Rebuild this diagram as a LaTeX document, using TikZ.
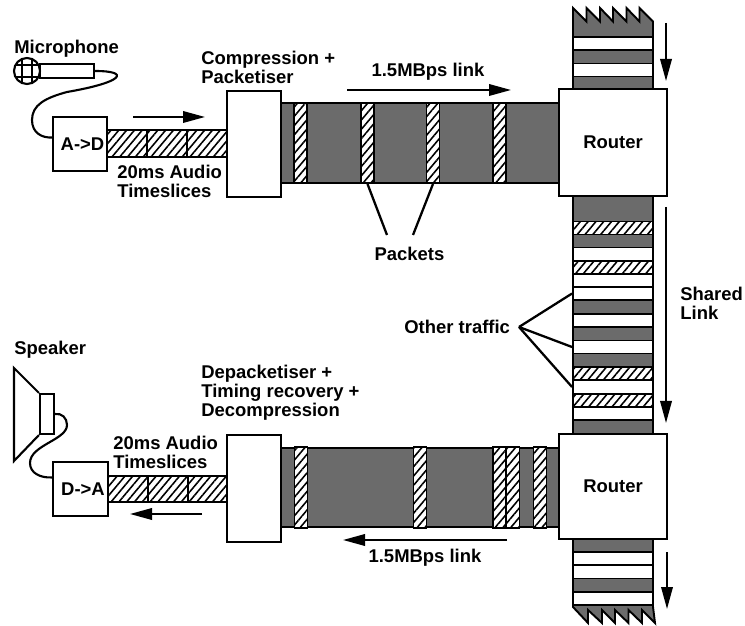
\documentclass[tikz,border=0pt]{standalone}
\usepackage{fontspec}
\setmainfont{Liberation Sans}
\usepackage{tikz}
\usetikzlibrary{arrows.meta, patterns.meta, positioning, calc}

\begin{document}
\begin{tikzpicture}[x=1cm,y=1cm]
\tikzset{
  lb/.style={font=\fontsize{10.5}{10.8}\selectfont\bfseries,align=left,inner sep=0pt},
  bx/.style={rectangle,draw=black,fill=white,line width=1.2pt,inner sep=0pt,font=\fontsize{10.5}{10.8}\selectfont\bfseries},
  dk/.style={fill=black!58},
  hc/.style={preaction={fill=white},pattern={Lines[angle=50,distance=3.4pt,line width=0.9pt]}},
  pk/.style={rectangle,draw=black,line width=1.1pt,inner sep=0pt,hc,minimum width=0.26cm},
  bw/.style={rectangle,draw=black,line width=1.1pt,inner sep=0pt,fill=white,minimum width=1.6cm,minimum height=0.26cm},
  bh/.style={bw,hc},
  ln/.style={line width=1.3pt,draw=black},
  cb/.style={line width=1.2pt,draw=black},
  ar/.style={-{Triangle[length=4.4mm,width=2.3mm]},line width=1.1pt,draw=black}
}
\useasboundingbox (0,0) rectangle (14.9,12.5);
% shared link
\draw[dk,line width=1.1pt] (11.46,12.34)--(11.73,12.07)--(11.73,12.34)--(12.00,12.07)--(12.00,12.34)--(12.26,12.07)--(12.26,12.34)--(12.53,12.07)--(12.53,12.34)--(12.79,12.07)--(12.79,12.34)--(13.06,12.07)
  --(13.06,0.36)--(13.10,0.04)--(12.84,0.30)--(12.84,0.04)--(12.57,0.30)--(12.57,0.04)--(12.30,0.30)--(12.30,0.04)--(12.04,0.30)--(12.04,0.04)--(11.76,0.30)--(11.76,0.04)--(11.46,0.36)--cycle;
\foreach \yc/\st/\n in {11.635/bw/a,11.10/bw/b,7.94/bh/c,7.42/bw/d,7.15/bh/e,6.89/bw/f,6.63/bw/g,6.09/bw/h,5.56/bw/i,5.03/bh/j,4.76/bw/k,4.49/bh/l,4.23/bw/m,1.33/bw/n,1.06/bw/o,0.53/bw/p}
  \node[\st] (s\n) at (12.26,\yc) {};
% links
\draw[dk,line width=1.2pt] (5.62,10.44) rectangle (11.18,8.84);
\draw[dk,line width=1.2pt] (5.62,3.54) rectangle (11.18,1.96);
\foreach \xc/\n in {6.01/1,7.35/2,8.66/3,9.99/4}
  \node[pk,minimum height=1.6cm] (tp\n) at (\xc,9.64) {};
\foreach \xc/\n in {6.02/1,8.40/2,9.99/3,10.26/4,10.80/5}
  \node[pk,minimum height=1.62cm] (bp\n) at (\xc,2.75) {};
% audio strips
\draw[hc,line width=1.2pt] (2.14,9.90) rectangle (4.54,9.36);
\draw[line width=1pt] (2.94,9.90)--(2.94,9.36) (3.74,9.90)--(3.74,9.36);
\draw[hc,line width=1.2pt] (2.16,2.98) rectangle (4.54,2.46);
\draw[line width=1pt] (2.96,2.98)--(2.96,2.46) (3.76,2.98)--(3.76,2.46);
% boxes
\node[bx,minimum width=2.16cm,minimum height=2.14cm] (r1) at (12.26,9.65) {Router};
\node[bx,minimum width=2.16cm,minimum height=2.10cm] (r2) at (12.26,2.77) {Router};
\node[bx,minimum width=1.08cm,minimum height=2.12cm] (cp) at (5.08,9.62) {};
\node[bx,minimum width=1.08cm,minimum height=2.14cm] (dp) at (5.08,2.73) {};
\node[bx,minimum width=1.08cm,minimum height=1.08cm] (ad) at (1.60,9.62) {\hspace*{1mm}A{-}>D};
\node[bx,minimum width=1.10cm,minimum height=1.08cm] (da) at (1.61,2.72) {\hspace*{1mm}D{-}>A};
% microphone
\node[bx,minimum width=1.08cm,minimum height=0.28cm] (hd) at (1.34,11.08) {};
\node[circle,draw=black,fill=white,line width=1.2pt,minimum size=0.52cm,inner sep=0pt,
  path picture={\draw[line width=0.8pt] (-0.10,-0.3)--(-0.10,0.3) (0.10,-0.3)--(0.10,0.3) (-0.3,0.12)--(0.3,0.12) (-0.3,-0.12)--(0.3,-0.12);}] (mic) at (0.54,11.08) {};
\draw[cb] (hd.east) .. controls (2.60,11.08) and (2.50,10.86) .. (1.34,10.66) .. controls (0.90,10.54) and (0.64,10.40) .. (0.64,10.10) .. controls (0.64,9.84) and (0.84,9.74) .. (ad.167);
% speaker
\node[bx,minimum width=0.28cm,minimum height=0.80cm] (mg) at (0.94,4.22) {};
\coordinate (c1) at (0.28,5.14);
\coordinate (c2) at (0.28,3.28);
\draw[cb] (mg.north west)--(c1)--(c2)--(mg.south west);
\draw[cb] (mg.east) .. controls (1.24,4.24) and (1.34,4.14) .. (1.34,4.00) .. controls (1.34,3.70) and (0.60,3.60) .. (0.60,3.24) .. controls (0.60,3.04) and (0.80,2.94) .. (da.158);
% labels
\node[lb,anchor=west] (lm) at (0.28,11.52) {Microphone};
\node[lb,anchor=west] (ls) at (0.28,5.50) {Speaker};
\node[lb,anchor=west] (lc) at (4.02,11.16) {Compression +\\Packetiser};
\node[lb,anchor=west] (ld) at (4.02,4.64) {Depacketiser +\\Timing recovery +\\Decompression};
\node[lb,anchor=west] (la) at (2.34,8.88) {20ms Audio\\Timeslices};
\node[lb,anchor=west] (lb) at (2.26,3.46) {20ms Audio\\Timeslices};
\node[lb] (l1) at (8.56,11.06) {1.5MBps link};
\node[lb] (l2) at (8.50,1.34) {1.5MBps link};
\node[lb] (lp) at (8.19,7.42) {Packets};
\node[lb,anchor=west] (lo) at (8.08,5.96) {Other traffic};
\node[lb,anchor=west] (lk) at (13.60,6.44) {Shared\\Link};
% pointers
\coordinate (p1) at (7.74,7.80);
\coordinate (p2) at (8.26,7.80);
\coordinate (ot) at (10.38,5.96);
\draw[ln] (tp2.south)--(p1);
\draw[ln] (tp3.south)--(p2);
\draw[ln] (ot)--(sg.west);
\draw[ln] (ot)--(si.west);
\draw[ln] (ot)--(sk.west);
% arrows
\coordinate (a1) at (2.66,10.16); \coordinate (a2) at (4.10,10.16);
\coordinate (a3) at (4.04,2.22); \coordinate (a4) at (2.60,2.22);
\coordinate (a5) at (6.94,10.70); \coordinate (a6) at (10.22,10.70);
\coordinate (a7) at (10.14,1.70); \coordinate (a8) at (6.86,1.70);
\coordinate (a9) at (13.32,12.04); \coordinate (a10) at (13.32,10.88);
\coordinate (a11) at (13.32,8.36); \coordinate (a12) at (13.32,4.04);
\coordinate (a13) at (13.34,1.46); \coordinate (a14) at (13.34,0.32);
\foreach \s/\e in {a1/a2,a3/a4,a5/a6,a7/a8,a9/a10,a11/a12,a13/a14}
  \draw[ar] (\s)--(\e);
\end{tikzpicture}
\end{document}
